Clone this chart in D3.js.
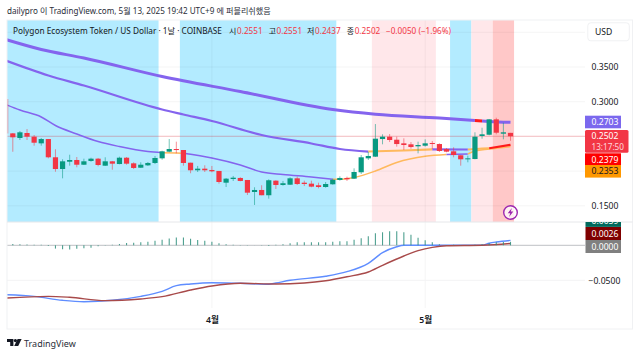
<!DOCTYPE html>
<html lang="ko">
<head>
  <meta charset="UTF-8">
  <title>POL / USD</title>
  <script src="https://d3js.org/d3.v7.min.js"></script>
  <style>
    html, body { margin: 0; padding: 0; background: #fff; }
    svg { display: block; font-family: "Noto Sans", "Noto Sans CJK KR", sans-serif; }
    .axis path { display: none; }
    .axis line { display: none; }
    .axis text { fill: #131722; font-size: 8.6px; font-family: "Noto Sans", "Noto Sans CJK KR", sans-serif; }
  </style>
</head>
<body>
  <svg id="chart" width="640" height="356"></svg>

  <script>
    // candles, index 0 = Mar 4, index 70 = May 13
    const opens = [.2544,.2477,.2549,.2496,.2400,.2462,.2199,.2030,.2135,.2160,.2092,.2146,.2179,.2078,.2141,.2102,.2193,.2112,.2049,.2083,.2117,.2184,.2280,.2318,
      .2304,.2121,.2012,.2035,.2016,.2002,.1833,.1886,.1901,.1872,.1699,.1728,.1652,.1862,.1800,.1804,.1896,.1833,.1819,.1796,.1771,.1810,.1872,.1901,
      .1891,.1983,.2184,.2208,.2462,.2496,.2452,.2400,.2386,.2357,.2366,.2405,.2390,.2318,.2285,.2228,.2174,.2174,.2506,.2524,.2746,.2539,.2551];
    const highs = [.2549,.2578,.2606,.2520,.2477,.2462,.2314,.2170,.2236,.2203,.2179,.2193,.2189,.2199,.2146,.2208,.2203,.2127,.2127,.2131,.2218,.2294,.2462,.2424,
      .2304,.2121,.2074,.2084,.2074,.2002,.1901,.1930,.1911,.1872,.1767,.1796,.1882,.1868,.1858,.1911,.1920,.1862,.1862,.1833,.1843,.1891,.1925,.1920,
      .2040,.2232,.2280,.2678,.2530,.2534,.2496,.2472,.2419,.2424,.2458,.2434,.2400,.2333,.2343,.2228,.2222,.2559,.2625,.2750,.2769,.2697,.2551];
    const lows = [.2279,.2448,.2448,.2366,.2366,.2184,.1991,.1896,.2078,.2055,.2088,.2135,.2069,.2074,.2020,.2098,.2092,.2030,.2045,.2074,.2102,.2164,.2271,.2256,
      .2078,.1969,.1987,.1987,.1983,.1819,.1771,.1858,.1853,.1656,.1512,.1652,.1603,.1742,.1790,.1800,.1800,.1785,.1767,.1752,.1761,.1804,.1862,.1858,
      .1886,.1958,.2160,.2203,.2386,.2419,.2352,.2304,.2323,.2256,.2352,.2318,.2275,.2271,.2199,.2078,.2127,.2170,.2467,.2516,.2530,.2458,.2437];
    const closes = [.2487,.2559,.2496,.2409,.2462,.2199,.2030,.2141,.2160,.2092,.2141,.2179,.2088,.2141,.2107,.2193,.2107,.2045,.2092,.2117,.2189,.2285,.2318,.2304,
      .2117,.2012,.2035,.2012,.1997,.1843,.1891,.1905,.1858,.1689,.1728,.1652,.1868,.1800,.1825,.1896,.1814,.1814,.1776,.1771,.1814,.1876,.1901,.1882,
      .1987,.2199,.2218,.2467,.2496,.2448,.2390,.2376,.2347,.2376,.2400,.2395,.2290,.2280,.2232,.2170,.2184,.2496,.2530,.2746,.2553,.2559,.2502];
    // the candle before, cut off by the left edge
    const prevOpen = .3039, prevClose = .2542;

    // moving averages, read at a few days; colour is for the piece after that point
    const slowDays = [-1,4,10,21,32,45,51,60,65,66,67,70];
    const slowVals = [.3896,.3752,.3630,.3363,.3147,.2888,.2820,.2765,.2730,.2722,.2716,.2703];
    const slowCols = ["p","p","p","p","p","p","p","p","r","p","p","p"];

    const midDays = [-1,5,10,21,24,28,35,42,46,50,55,59,64,66,67,70];
    const midVals = [.3594,.3378,.3233,.2888,.2816,.2722,.2520,.2398,.2318,.2282,.2297,.2314,.2311,.2326,.2329,.2379];
    const midCols = ["p","p","p","p","p","p","p","p","p","o","o","p","o","o","r","r"];

    const fastDays = [-1,1,4,6,9,12,15,19,21,23,24,28,32,35,38,42,45,46,48,51,54,58,61,64,65,67,70];
    const fastVals = [.2960,.2880,.2780,.2657,.2535,.2426,.2354,.2282,.2265,.2261,.2258,.2189,.2088,.1987,.1951,.1915,.1882,.1882,.1908,.2001,.2124,.2213,.2239,.2246,.2290,.2318,.2353];
    const fastCols = ["p","p","p","p","p","p","p","p","o","o","p","p","p","p","p","p","o","o","o","o","o","o","p","o","o","o","o"];

    // macd pane
    const hist = [.0019,.0014,.0010,.0007,0,-.0010,-.0047,-.0057,-.0061,-.0050,-.0043,-.0036,-.0014,-.0004,.0007,.0019,.0033,.0036,.0043,.0050,.0064,.0079,.0096,.0110,
      .0110,.0093,.0076,.0064,.0050,.0029,.0014,.0007,.0004,-.0004,.0001,-.0004,-.0010,.0007,.0014,.0029,.0043,.0043,.0043,.0043,.0043,.0050,.0057,.0057,
      .0079,.0100,.0129,.0171,.0186,.0200,.0200,.0186,.0150,.0107,.0071,.0043,.0014,.0004,0,-.0003,.0003,.0007,.0014,.0029,.0043,.0047,.0050];
    const macdDays = [-1,3,7,10,14,18,21,23,25,28,32,36,37,39,44,47,50,52,54,55,65,66,67,68,70];
    const macdVals = [-.0706,-.0729,-.0786,-.0806,-.0786,-.0729,-.0657,-.0577,-.0553,-.0534,-.0543,-.0557,-.0539,-.0500,-.0443,-.0377,-.0257,-.0106,-.0020,0,0,0,.0029,.0047,.0070];
    const signalDays = [-1,5,8,13,18,21,25,28,32,37,41,44,47,50,52,55,57,59,61,66,70];
    const signalVals = [-.0753,-.0729,-.0743,-.0791,-.0767,-.0734,-.0639,-.0581,-.0543,-.0553,-.0539,-.0506,-.0449,-.0381,-.0286,-.0153,-.0077,-.0029,-.0006,0,.0026];

    // background colour runs [first day, last day, kind]
    const bandStart = [-1,24,51,62,65,68];
    const bandEnd = [20,45,59,64,67,70];
    const bandKind = ["blue","blue","pink","blue","pink","strong"];

    const priceTicks = [.35,.30,.15];
    const priceGrid = [.40,.35,.30,.25,.20,.15];
    const macdTicks = [-.05];
    const monthDays = [28,58];
    const monthNames = ["4월","5월"];

    const colors = {
      up: "#089981", down: "#f23645",
      p: "#8464ee", o: "#ffb95e", r: "#ff1a1a",
      blue: "#b3ebff", pink: "#ffe7ea", strong: "#ffc8c8",
      grid: "#f3f3f4", text: "#131722"
    };

    const svg = d3.select("#chart");

    const paneLeft = 7, axisX = 585, paneRight = 632.5;
    const paneTop = 20, split = 222, paneBottom = 308, frameBottom = 329;

    const x = d3.scaleLinear().domain([0, 70]).range([12.8, 510.5]);
    const y = d3.scaleLinear().domain([.15, .35]).range([205.8, 67]);
    const yMacd = d3.scaleLinear().domain([-.05, 0]).range([280.3, 245.3]);
    const step = x(1) - x(0);

    const defs = svg.append("defs");
    defs.append("clipPath").attr("id", "mainClip").append("rect")
      .attr("x", paneLeft).attr("y", paneTop).attr("width", axisX - paneLeft).attr("height", split - paneTop);
    defs.append("clipPath").attr("id", "macdClip").append("rect")
      .attr("x", paneLeft).attr("y", split).attr("width", axisX - paneLeft).attr("height", paneBottom - split);
    defs.append("clipPath").attr("id", "tagClip").append("rect")
      .attr("x", axisX).attr("y", split).attr("width", 50).attr("height", 40);

    // header
    svg.append("text").attr("x", paneLeft).attr("y", 14.2)
      .attr("font-size", 8.1).attr("fill", "#2a2e39")
      .text("dailypro 이 TradingView.com, 5월 13, 2025 19:42 UTC+9 에 퍼블리쉬했음");

    const main = svg.append("g").attr("clip-path", "url(#mainClip)");

    main.selectAll(".band").data(bandStart).join("rect")
      .attr("x", (d) => x(d) - step / 2)
      .attr("width", (d, i) => x(bandEnd[i]) - x(d) + step)
      .attr("y", paneTop).attr("height", split - paneTop)
      .attr("fill", (d, i) => colors[bandKind[i]]);

    main.selectAll(".hgrid").data(priceGrid).join("line")
      .attr("x1", paneLeft).attr("x2", axisX)
      .attr("y1", (d) => y(d)).attr("y2", (d) => y(d))
      .attr("stroke", "#000").attr("stroke-opacity", .045);

    svg.selectAll(".vgrid").data(monthDays).join("line")
      .attr("x1", (d) => x(d)).attr("x2", (d) => x(d))
      .attr("y1", paneTop).attr("y2", paneBottom)
      .attr("stroke", "#000").attr("stroke-opacity", .045);

    // last price line
    main.append("line")
      .attr("x1", paneLeft).attr("x2", axisX)
      .attr("y1", y(closes[70])).attr("y2", y(closes[70]))
      .attr("stroke", colors.down).attr("stroke-opacity", .3);

    function drawLine(parent, days, vals, cols, width, scale) {
      const line = d3.line().x((d) => x(d[0])).y((d) => scale(d[1])).curve(d3.curveMonotoneX);
      let start = 0;
      for (let i = 1; i < days.length; i++) {
        if (i === days.length - 1 || cols[i] !== cols[start]) {
          const pts = d3.range(start, i + 1).map((k) => [days[k], vals[k]]);
          parent.append("path").attr("d", line(pts))
            .attr("fill", "none")
            .attr("stroke", colors[cols[start]])
            .attr("stroke-width", width);
          start = i;
        }
      }
    }

    drawLine(main, fastDays, fastVals, fastCols, 1.5, y);
    drawLine(main, midDays, midVals, midCols, 2.2, y);
    drawLine(main, slowDays, slowVals, slowCols, 3, y);

    // candles
    main.append("rect")
      .attr("x", x(-1) - 2.6).attr("width", 5.2)
      .attr("y", y(prevOpen)).attr("height", y(prevClose) - y(prevOpen))
      .attr("fill", colors.down).attr("fill-opacity", .5);

    const candles = main.selectAll(".candle").data(closes).join("g");
    candles.append("line")
      .attr("x1", (d, i) => x(i)).attr("x2", (d, i) => x(i))
      .attr("y1", (d, i) => y(highs[i])).attr("y2", (d, i) => y(lows[i]))
      .attr("stroke", (d, i) => d >= opens[i] ? colors.up : colors.down)
      .attr("stroke-opacity", .55);
    candles.append("rect")
      .attr("x", (d, i) => x(i) - 2.6).attr("width", 5.2)
      .attr("y", (d, i) => y(Math.max(d, opens[i])))
      .attr("height", (d, i) => Math.max(1, Math.abs(y(d) - y(opens[i]))))
      .attr("fill", (d, i) => d >= opens[i] ? colors.up : colors.down);

    // lightning mark
    const mark = svg.append("g").attr("transform", `translate(${x(70)},212.5)`);
    mark.append("circle").attr("r", 6.8).attr("fill", "#fff").attr("fill-opacity", .75)
      .attr("stroke", "#9c27b0").attr("stroke-width", 1.4);
    mark.append("path").attr("d", "M1.4,-4.4 L-2.8,0.7 L-0.3,0.7 L-1.4,4.4 L2.8,-0.9 L0.3,-0.9 Z").attr("fill", "#9c27b0");

    // macd pane
    const macdPane = svg.append("g").attr("clip-path", "url(#macdClip)");
    macdPane.append("line")
      .attr("x1", paneLeft).attr("x2", axisX)
      .attr("y1", yMacd(0)).attr("y2", yMacd(0))
      .attr("stroke", "#8a8e96").attr("stroke-opacity", .55);
    macdPane.selectAll(".hgrid").data(macdTicks).join("line")
      .attr("x1", paneLeft).attr("x2", axisX)
      .attr("y1", (d) => yMacd(d)).attr("y2", (d) => yMacd(d))
      .attr("stroke", colors.grid);

    const macdLine = d3.line().x((d) => x(d[0])).y((d) => yMacd(d[1])).curve(d3.curveMonotoneX);
    macdPane.append("path").attr("d", macdLine(macdDays.map((d, i) => [d, macdVals[i]])))
      .attr("fill", "none").attr("stroke", "#5f8dff").attr("stroke-width", 1.4);
    macdPane.append("path").attr("d", macdLine(signalDays.map((d, i) => [d, signalVals[i]])))
      .attr("fill", "none").attr("stroke", "#a84a4a").attr("stroke-width", 1.4);

    macdPane.selectAll(".bar").data(hist).join("line")
      .attr("x1", (d, i) => x(i)).attr("x2", (d, i) => x(i))
      .attr("y1", yMacd(0)).attr("y2", (d) => yMacd(d) - (d === 0 ? .5 : 0))
      .attr("stroke", "#2f8f7c").attr("stroke-width", 1.1).attr("stroke-opacity", .85);

    // frame
    const frame = "#f0f1f3";
    svg.append("rect").attr("x", paneLeft).attr("y", paneTop)
      .attr("width", paneRight - paneLeft).attr("height", frameBottom - paneTop)
      .attr("fill", "none").attr("stroke", frame);
    svg.append("line").attr("x1", paneLeft).attr("x2", paneRight).attr("y1", split).attr("y2", split)
      .attr("stroke", "#e6e7ea");

    // axes
    svg.append("g").attr("class", "axis").attr("transform", `translate(${axisX + 6.5},0)`)
      .call(d3.axisRight(y).tickValues(priceTicks).tickSize(0).tickPadding(0).tickFormat(d3.format(".4f")));
    svg.append("g").attr("class", "axis").attr("transform", `translate(${axisX + 3.5},0)`)
      .call(d3.axisRight(yMacd).tickValues(macdTicks).tickSize(0).tickPadding(0)
        .tickFormat((d) => "−" + d3.format(".4f")(-d)));
    svg.append("g").attr("class", "axis").attr("transform", "translate(0,317)")
      .call(d3.axisBottom(x).tickValues(monthDays).tickSize(0).tickPadding(0)
        .tickFormat((d, i) => monthNames[i]))
      .selectAll("text").attr("font-weight", 600);

    // USD button
    svg.append("rect").attr("x", 587.8).attr("y", 22.8).attr("width", 41.5).attr("height", 18).attr("rx", 3)
      .attr("fill", "#fff").attr("stroke", "#f0f1f3");
    svg.append("text").attr("x", 595).attr("y", 35).attr("font-size", 8.6).attr("fill", colors.text).text("USD");

    // price tags
    const tagNames = ["0.2703", "0.2379", "0.2353"];
    const tagTops = [115.7, 153.3, 165];
    const tagFills = ["#7b68ee", "#ff0000", "#ff9800"];
    const tagInks = ["#fff", "#fff", "#131722"];
    const tags = svg.selectAll(".tag").data(tagNames).join("g");
    tags.append("rect").attr("x", axisX).attr("width", 36).attr("y", (d, i) => tagTops[i]).attr("height", 12.6)
      .attr("fill", (d, i) => tagFills[i]);
    tags.append("text").attr("x", axisX + 6.5).attr("y", (d, i) => tagTops[i] + 9.4)
      .attr("font-size", 8.6).attr("fill", (d, i) => tagInks[i]).text((d) => d);

    svg.append("rect").attr("x", axisX).attr("y", 130).attr("width", 43.5).attr("height", 22.8).attr("rx", 1.5).attr("fill", colors.down);
    svg.append("text").attr("x", axisX + 6.5).attr("y", 139.4).attr("font-size", 8.6).attr("fill", "#fff").text("0.2502");
    svg.append("text").attr("x", axisX + 6.5).attr("y", 150).attr("font-size", 8.2).attr("fill", "#ffd9dc").text("13:17:50");

    const macdTags = svg.append("g").attr("clip-path", "url(#tagClip)");
    const macdNames = ["0.0059", "0.0026", "0.0000"];
    const macdTops = [214.3, 227, 240];
    const macdFills = ["#00695c", "#7f0000", "#808080"];
    macdTags.selectAll("rect").data(macdNames).join("rect")
      .attr("x", axisX + 0.5).attr("width", 35.5).attr("y", (d, i) => macdTops[i]).attr("height", (d, i) => i ? 13 : 12.6)
      .attr("fill", (d, i) => macdFills[i]);
    macdTags.selectAll("text").data(macdNames).join("text")
      .attr("x", axisX + 6.5).attr("y", (d, i) => macdTops[i] + 9.6)
      .attr("font-size", 8.6).attr("fill", "#fff").text((d) => d);

    // title line, on top of the bands
    const titleY = 34;
    const titleParts = [
      [13, "Polygon Ecosystem Token / US Dollar · 1날 · COINBASE", colors.text, 8.25],
      [229, "시", colors.text, 8], [237, "0.2551", colors.down, 8.2],
      [268.7, "고", colors.text, 8], [276.5, "0.2551", colors.down, 8.2],
      [307, "저", colors.text, 8], [315, "0.2437", colors.down, 8.2],
      [346.7, "종", colors.text, 8], [354.7, "0.2502", colors.down, 8.2],
      [386, "−0.0050 (−1.96%)", colors.down, 8.2]
    ];
    svg.selectAll(".title").data(titleParts).join("text")
      .attr("x", (d) => d[0]).attr("y", titleY)
      .attr("font-size", (d) => d[3]).attr("fill", (d) => d[2]).text((d) => d[1]);

    // logo
    const logo = svg.append("g").attr("transform", "translate(7,339)").attr("fill", "#131722");
    logo.append("path").attr("d", "M0,0 H6.4 V7 H3.2 V3 H0 Z");
    logo.append("circle").attr("cx", 8.4).attr("cy", 1.6).attr("r", 1.6);
    logo.append("path").attr("d", "M10.6,0 H14.6 L11.2,7 H7.2 Z");
    svg.append("text").attr("x", 24).attr("y", 346.5).attr("font-size", 9).attr("fill", "#2a2e39").text("TradingView");
  </script>
</body>
</html>
